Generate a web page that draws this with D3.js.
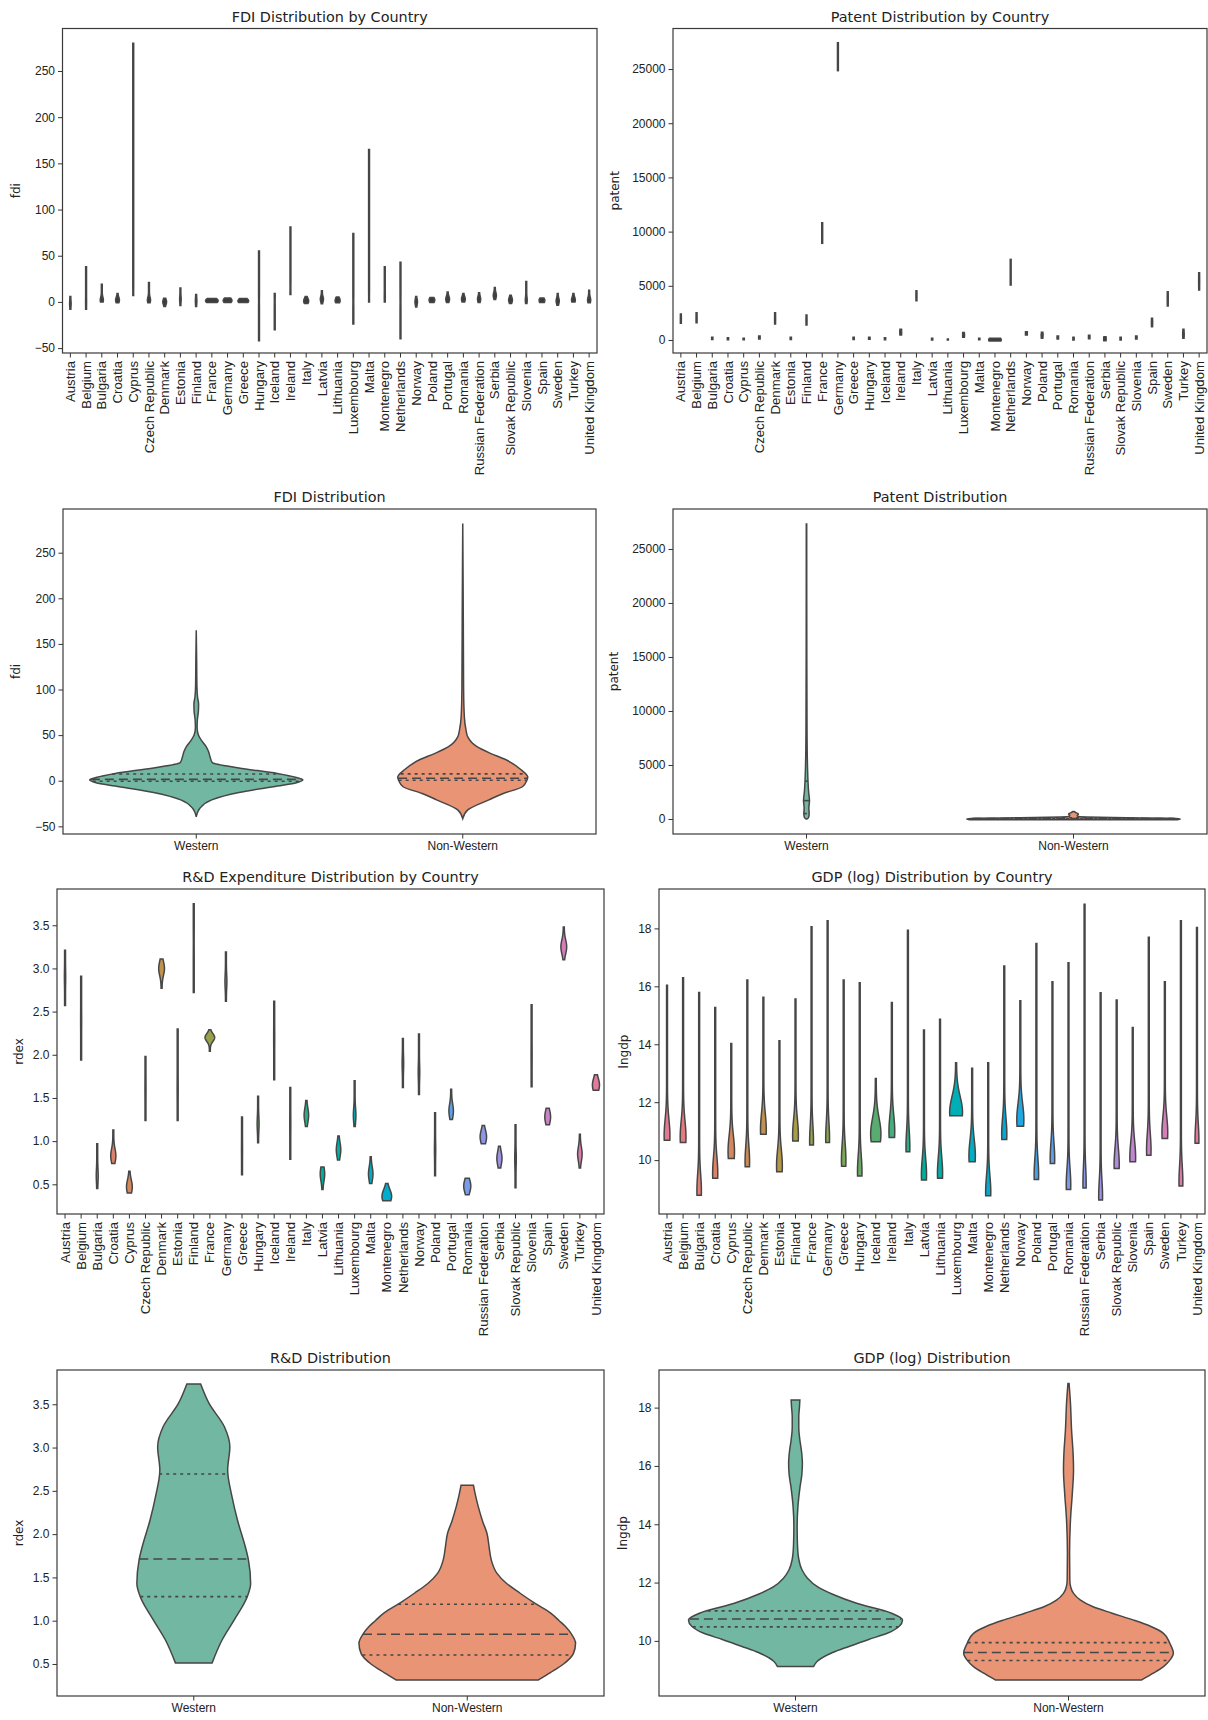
<!DOCTYPE html>
<html lang="en">
<head>
<meta charset="UTF-8" />
<title>Violin plots</title>
<style>
  body { margin: 0; background: #fff; }
  svg { display: block; font-family: "DejaVu Sans", sans-serif; }
  .title { font-size: 14.4px; fill: #222; }
  .tick text { font-size: 12px; fill: #222; }
  .tick line { stroke: #333; }
  .rot .tick text { font-size: 13.2px; }
  .ylab { font-size: 12px; fill: #222; }
  .domain { display: none; }
  .frame { fill: none; stroke: #3a3a3a; stroke-width: 1.2; }
</style>
</head>
<body>
<div class="container"></div>
<script src="https://d3js.org/d3.v7.min.js"></script>
<script>
const countries = ["Austria", "Belgium", "Bulgaria", "Croatia", "Cyprus", "Czech Republic", "Denmark",
  "Estonia", "Finland", "France", "Germany", "Greece", "Hungary", "Iceland", "Ireland", "Italy", "Latvia",
  "Lithuania", "Luxembourg", "Malta", "Montenegro", "Netherlands", "Norway", "Poland", "Portugal", "Romania",
  "Russian Federation", "Serbia", "Slovak Republic", "Slovenia", "Spain", "Sweden", "Turkey", "United Kingdom"];
const groups = ["Western", "Non-Western"];

// per country: [min, max, densest value, relative width there, optional spread]
const fdiByCountry = [
  [-8, 6, -2, 0.12], [-8, 38, 0, 0.08], [0, 19, 2, 0.25], [-1, 9, 2, 0.3], [7, 280, 10, 0.06],
  [-1, 21, 2, 0.25], [-5, 4, 0, 0.3], [-4, 15, 3, 0.12], [-5, 8, 1, 0.12], [-0.7, 3.6, 1.2, 1.0],
  [-0.7, 4.3, 1.5, 0.7], [-0.7, 3.6, 1, 0.85], [-42, 55, 0, 0.06], [-30, 9, 0, 0.06], [8, 81, 15, 0.06],
  [-1.8, 6, 1, 0.4], [-2, 12, 3, 0.25], [-1, 5.4, 1.5, 0.4], [-24, 74, 0, 0.06], [0, 165, 5, 0.06],
  [0, 38, 5, 0.08], [-40, 43, 0, 0.06], [-5.4, 6, 0, 0.2], [-0.7, 4.7, 2, 0.45], [-0.7, 10.8, 3, 0.3],
  [0, 9, 3, 0.3], [-0.7, 9.8, 3, 0.25], [2.5, 15.5, 7, 0.25], [-1.8, 7.2, 2, 0.3], [-1.8, 22, 2, 0.15],
  [-0.7, 4.3, 1.5, 0.45], [-3.6, 9, 1, 0.25], [0, 9, 2, 0.3], [-1, 12.6, 2, 0.25]];

const patentByCountry = [
  [1540, 2400, 1900, 0.08], [1600, 2520, 2000, 0.08], [50, 250, 150, 0.1], [30, 200, 100, 0.1],
  [30, 170, 100, 0.1], [100, 370, 230, 0.12], [1480, 2520, 2000, 0.08], [50, 250, 150, 0.1],
  [1380, 2300, 1800, 0.08], [8920, 10820, 9800, 0.07], [24850, 27430, 26000, 0.07], [50, 250, 150, 0.1],
  [60, 250, 150, 0.12], [30, 200, 120, 0.1], [460, 980, 700, 0.15], [3630, 4550, 4100, 0.08],
  [10, 150, 60, 0.1], [0, 100, 30, 0.08], [250, 680, 450, 0.15], [20, 160, 90, 0.1],
  [-100, 150, 10, 1.0], [5070, 7440, 6200, 0.07], [460, 770, 600, 0.15], [150, 710, 450, 0.15],
  [90, 370, 230, 0.12], [0, 250, 120, 0.1], [120, 430, 280, 0.12], [-60, 310, 100, 0.2],
  [0, 250, 120, 0.1], [90, 370, 230, 0.12], [1230, 2000, 1600, 0.1], [3140, 4460, 3800, 0.08],
  [150, 980, 500, 0.12], [4610, 6210, 5400, 0.08]];

const rdexByCountry = [
  [2.57, 3.21, 2.9, 0.1], [1.94, 2.91, 2.4, 0.08], [0.45, 0.97, 0.6, 0.15], [0.74, 1.13, 0.83, 0.4],
  [0.40, 0.65, 0.47, 0.45], [1.24, 1.98, 1.6, 0.08], [2.77, 3.11, 3.0, 0.45], [1.24, 2.3, 1.6, 0.08],
  [2.72, 3.75, 3.3, 0.06], [2.04, 2.29, 2.2, 0.75, 0.045], [2.62, 3.19, 2.85, 0.15], [0.61, 1.28, 0.9, 0.08],
  [0.98, 1.52, 1.2, 0.15], [1.71, 2.62, 2.2, 0.08], [0.79, 1.62, 1.2, 0.08], [1.17, 1.47, 1.3, 0.35],
  [0.44, 0.70, 0.62, 0.35], [0.78, 1.06, 0.9, 0.35], [1.17, 1.70, 1.3, 0.2], [0.51, 0.82, 0.62, 0.35],
  [0.31, 0.51, 0.36, 0.75], [1.62, 2.19, 1.9, 0.12], [1.54, 2.24, 1.8, 0.12], [0.60, 1.33, 0.9, 0.1],
  [1.25, 1.60, 1.35, 0.35], [0.38, 0.57, 0.48, 0.55], [0.97, 1.18, 1.05, 0.5], [0.69, 0.94, 0.8, 0.4],
  [0.46, 1.19, 0.8, 0.12], [1.63, 2.58, 2.0, 0.08], [1.19, 1.38, 1.28, 0.45], [3.10, 3.48, 3.25, 0.45],
  [0.69, 1.08, 0.85, 0.35], [1.59, 1.77, 1.65, 0.55]];

const gdpByCountry = [
  [10.69, 16.04, 10.85, 0.45], [10.61, 16.3, 10.8, 0.45], [8.79, 15.79, 8.95, 0.35], [9.37, 15.27, 9.55, 0.4],
  [10.06, 14.03, 10.3, 0.5], [9.77, 16.22, 9.95, 0.35], [10.89, 15.62, 11.05, 0.45], [9.6, 14.12, 9.8, 0.45],
  [10.66, 15.56, 10.85, 0.45], [10.52, 18.06, 10.65, 0.3], [10.61, 18.26, 10.75, 0.3], [9.79, 16.22, 10.0, 0.35],
  [9.45, 16.12, 9.6, 0.35], [10.63, 12.82, 10.9, 0.8], [10.78, 15.44, 11.0, 0.45], [10.29, 17.94, 10.45, 0.3],
  [9.31, 14.49, 9.5, 0.4], [9.37, 14.86, 9.55, 0.4], [11.53, 13.36, 11.65, 1.0], [9.94, 13.17, 10.15, 0.5],
  [8.77, 13.36, 8.9, 0.4], [10.71, 16.7, 10.9, 0.4], [11.17, 15.5, 11.4, 0.55], [9.33, 17.48, 9.5, 0.35],
  [9.88, 16.16, 10.05, 0.35], [8.99, 16.81, 9.15, 0.35], [9.04, 18.83, 9.2, 0.25], [8.62, 15.78, 8.75, 0.3],
  [9.71, 15.53, 9.85, 0.4], [9.94, 14.58, 10.1, 0.45], [10.17, 17.69, 10.35, 0.35], [10.75, 16.16, 10.95, 0.45],
  [9.11, 18.26, 9.25, 0.3], [10.58, 18.03, 10.7, 0.3]];

// group violins: [value, relative width]
const fdiWestern = [[-39.5, 0], [-34, 0.015], [-30, 0.036], [-21, 0.145], [-13, 0.4], [-5.8, 0.76], [-2.2, 0.94],
  [1, 1.0], [3.6, 0.94], [8, 0.76], [14, 0.4], [20, 0.15], [26, 0.13], [32, 0.115], [38, 0.09], [44, 0.05],
  [50, 0.02], [58, 0.008], [66, 0.01], [76, 0.02], [84, 0.022], [92, 0.012], [105, 0.006], [130, 0.004], [165, 0]];
const fdiNonWestern = [[-41.5, 0], [-32, 0.047], [-21, 0.245], [-14, 0.38], [-6.6, 0.56], [0, 0.6], [4, 0.61],
  [11.7, 0.55], [22.7, 0.41], [30, 0.26], [37, 0.137], [48, 0.047], [56, 0.03], [70, 0.015], [100, 0.008],
  [180, 0.005], [282, 0]];
const patentWestern = [[0, 0.005], [150, 0.02], [500, 0.025], [1000, 0.022], [1700, 0.028], [2500, 0.02],
  [3500, 0.014], [5000, 0.009], [8000, 0.005], [15000, 0.003], [27300, 0.002]];
const patentNonWestern = [[-60, 0.98], [0, 1.0], [60, 0.92], [120, 0.5], [180, 0.12], [240, 0.04], [320, 0.035],
  [420, 0.045], [520, 0.04], [600, 0.02], [700, 0.004]];
const rdexWestern = [[0.51, 0.167], [0.78, 0.26], [1.01, 0.37], [1.28, 0.49], [1.43, 0.52], [1.70, 0.50],
  [1.86, 0.47], [2.16, 0.40], [2.43, 0.35], [2.74, 0.31], [3.01, 0.33], [3.24, 0.28], [3.51, 0.14], [3.735, 0.063]];
const rdexNonWestern = [[0.315, 0.65], [0.4, 0.76], [0.5, 0.88], [0.62, 0.97], [0.74, 0.99], [0.85, 0.95],
  [0.93, 0.90], [1.0, 0.84], [1.09, 0.76], [1.2, 0.62], [1.32, 0.48], [1.43, 0.36], [1.55, 0.27], [1.7, 0.22],
  [1.85, 0.20], [2.01, 0.18], [2.15, 0.14], [2.32, 0.10], [2.45, 0.075], [2.564, 0.057]];
const gdpWestern = [[9.12, 0.165], [9.3, 0.2], [9.6, 0.34], [9.81, 0.49], [10.05, 0.67], [10.26, 0.84],
  [10.5, 0.95], [10.72, 0.98], [10.95, 0.88], [11.29, 0.56], [11.6, 0.34], [11.86, 0.2], [12.15, 0.11],
  [12.43, 0.06], [12.8, 0.03], [13.3, 0.018], [13.92, 0.015], [14.6, 0.022], [15.29, 0.042], [15.7, 0.058],
  [16.09, 0.063], [16.5, 0.055], [16.89, 0.04], [17.3, 0.03], [17.7, 0.03], [18.0, 0.036], [18.26, 0.04]];
const gdpNonWestern = [[8.66, 0.67], [8.9, 0.78], [9.12, 0.87], [9.35, 0.93], [9.58, 0.96], [9.9, 0.93],
  [10.26, 0.87], [10.5, 0.75], [10.72, 0.59], [10.95, 0.4], [11.18, 0.22], [11.4, 0.11], [11.63, 0.046],
  [11.85, 0.02], [12.09, 0.012], [13.0, 0.01], [14.15, 0.018], [15.06, 0.035], [15.86, 0.046], [16.43, 0.042],
  [17.23, 0.028], [18.15, 0.018], [18.83, 0.005]];

// quartiles [q1, median, q3] per group
const fdiQuart = [[-0.5, 1.5, 7.3], [0.5, 2.8, 7.5]];
const patentQuart = [[500, 1700, 3500], [10, 40, 120]];
const rdexQuart = [[1.278, 1.713, 2.695], [0.604, 0.843, 1.19]];
const gdpQuart = [[10.48, 10.75, 11.03], [9.33, 9.6, 9.94]];

const fdiTicks = [-50, 0, 50, 100, 150, 200, 250];
const patentTicks = [0, 5000, 10000, 15000, 20000, 25000];
const rdexTicks = [0.5, 1.0, 1.5, 2.0, 2.5, 3.0, 3.5];
const gdpTicks = [10, 12, 14, 16, 18];

const groupColors = ["#72b7a1", "#e99575"];
const lineColor = "#464646";

const svg = d3.select(".container").append("svg")
  .attr("width", 1208)
  .attr("height", 1720);

function countryColor(i) {
  return d3.hcl(10 + i * 360 / countries.length, 44, 64).formatHex();
}

function panel(p) {
  const g = svg.append("g");
  const cats = p.byCountry ? countries : groups;
  const x = d3.scaleBand().domain(cats).range([p.x0, p.x1]);
  const y = d3.scaleLinear().domain(p.domain).range([p.y1, p.y0]);
  const w = d3.scaleLinear().domain([0, 1]).range([0, x.bandwidth() * 0.4]);

  const area = cx => d3.area()
    .y(d => y(d[0]))
    .x0(d => cx - w(d[1]))
    .x1(d => cx + w(d[1]));

  if (p.byCountry) {
    const base = 0.07;
    p.data.forEach((d, i) => {
      const [lo, hi, peak, wd] = d;
      const s = d[4] || p.sigma;
      const pts = d3.range(161).map(k => {
        const v = lo + (hi - lo) * k / 160;
        return [v, base + (wd - base) * Math.exp(-0.5 * ((v - peak) / s) ** 2)];
      });
      const cx = x(countries[i]) + x.bandwidth() / 2;
      g.append("path")
        .attr("d", area(cx)(pts))
        .attr("fill", p.dark ? "#3c3c3c" : countryColor(i))
        .attr("stroke", lineColor)
        .attr("stroke-width", 1.5);
    });
  } else {
    p.data.forEach((prof, i) => {
      const cx = x(groups[i]) + x.bandwidth() / 2;
      g.append("path")
        .attr("d", area(cx).curve(d3.curveMonotoneY)(prof))
        .attr("fill", groupColors[i])
        .attr("stroke", lineColor)
        .attr("stroke-width", 1.5);
      const width = d3.scaleLinear().domain(prof.map(d => d[0])).range(prof.map(d => d[1])).clamp(true);
      p.quart[i].forEach((q, k) => {
        g.append("line")
          .attr("x1", cx - w(width(q)))
          .attr("x2", cx + w(width(q)))
          .attr("y1", y(q))
          .attr("y2", y(q))
          .attr("stroke", lineColor)
          .attr("stroke-width", 1.6)
          .attr("stroke-dasharray", k === 1 ? "9,5" : "3,4");
      });
    });
  }

  g.append("g")
    .attr("transform", "translate(" + p.x0 + ",0)")
    .call(d3.axisLeft(y).tickValues(p.ticks).tickFormat(p.fmt).tickSize(4.5).tickPadding(3));

  const xa = g.append("g")
    .attr("transform", "translate(0," + p.y1 + ")")
    .call(d3.axisBottom(x).tickSize(4.5).tickPadding(3));
  if (p.byCountry) {
    xa.attr("class", "rot")
      .selectAll("text")
      .attr("transform", "rotate(-90)")
      .attr("text-anchor", "end")
      .attr("x", -8)
      .attr("y", 0)
      .attr("dy", "0.35em");
  }

  g.append("rect")
    .attr("class", "frame")
    .attr("x", p.x0)
    .attr("y", p.y0)
    .attr("width", p.x1 - p.x0)
    .attr("height", p.y1 - p.y0);

  g.append("text")
    .attr("class", "title")
    .attr("x", (p.x0 + p.x1) / 2)
    .attr("y", p.y0 - 7)
    .attr("text-anchor", "middle")
    .text(p.title);

  g.append("text")
    .attr("class", "ylab")
    .attr("transform", "translate(" + p.ylabX + "," + (p.y0 + p.y1) / 2 + ") rotate(-90)")
    .attr("text-anchor", "middle")
    .attr("dy", "0.35em")
    .text(p.ylabel);
}

const fmtInt = d3.format("d");
const fmt1 = d3.format(".1f");

panel({ title: "FDI Distribution by Country", ylabel: "fdi", byCountry: true, dark: true, data: fdiByCountry, sigma: 3,
  x0: 62.5, x1: 597, y0: 28.5, y1: 353, domain: [-55.3, 296], ticks: fdiTicks, fmt: fmtInt, ylabX: 16 });
panel({ title: "Patent Distribution by Country", ylabel: "patent", byCountry: true, dark: true, data: patentByCountry, sigma: 300,
  x0: 673, x1: 1207, y0: 28.5, y1: 353, domain: [-1200, 28740], ticks: patentTicks, fmt: fmtInt, ylabX: 615 });
panel({ title: "FDI Distribution", ylabel: "fdi", byCountry: false, data: [fdiWestern, fdiNonWestern], quart: fdiQuart,
  x0: 63, x1: 596, y0: 509, y1: 834, domain: [-58.4, 297.9], ticks: fdiTicks, fmt: fmtInt, ylabX: 16 });
panel({ title: "Patent Distribution", ylabel: "patent", byCountry: false, data: [patentWestern, patentNonWestern], quart: patentQuart,
  x0: 673, x1: 1207, y0: 509, y1: 834, domain: [-1390, 28700], ticks: patentTicks, fmt: fmtInt, ylabX: 614 });
panel({ title: "R&D Expenditure Distribution by Country", ylabel: "rdex", byCountry: true, data: rdexByCountry, sigma: 0.08,
  x0: 57, x1: 604, y0: 889, y1: 1214, domain: [0.156, 3.92], ticks: rdexTicks, fmt: fmt1, ylabX: 18.5 });
panel({ title: "GDP (log) Distribution by Country", ylabel: "lngdp", byCountry: true, data: gdpByCountry, sigma: 0.55,
  x0: 659, x1: 1205, y0: 889, y1: 1214, domain: [8.14, 19.36], ticks: gdpTicks, fmt: fmtInt, ylabX: 624 });
panel({ title: "R&D Distribution", ylabel: "rdex", byCountry: false, data: [rdexWestern, rdexNonWestern], quart: rdexQuart,
  x0: 57, x1: 604, y0: 1370, y1: 1696, domain: [0.13, 3.896], ticks: rdexTicks, fmt: fmt1, ylabX: 18.5 });
panel({ title: "GDP (log) Distribution", ylabel: "lngdp", byCountry: false, data: [gdpWestern, gdpNonWestern], quart: gdpQuart,
  x0: 659, x1: 1205, y0: 1370, y1: 1696, domain: [8.11, 19.29], ticks: gdpTicks, fmt: fmtInt, ylabX: 623 });
</script>
</body>
</html>
